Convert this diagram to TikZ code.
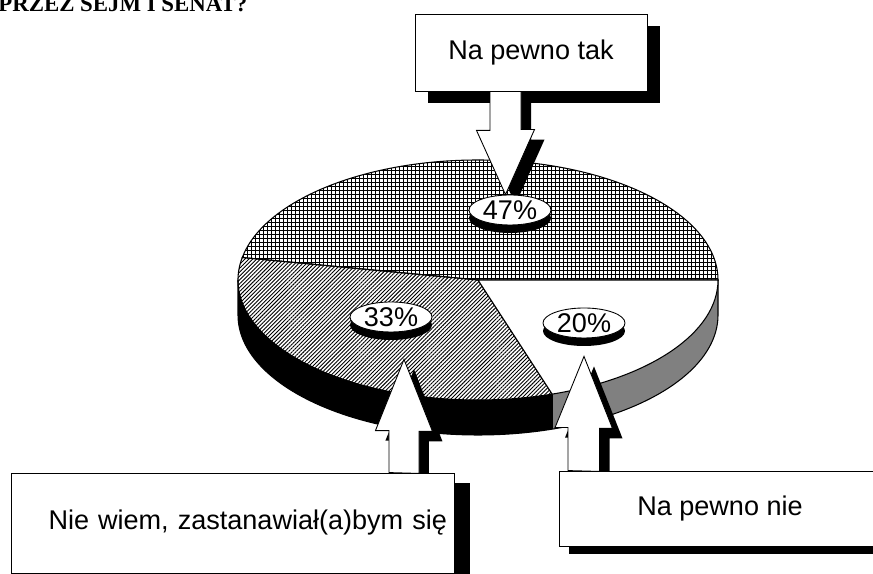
\documentclass[tikz,border=0pt]{standalone}
\usepackage{fontspec}
\setmainfont{Liberation Sans}
\newfontfamily\titlefont{Liberation Serif}
\usetikzlibrary{shapes.geometric, patterns.meta, shadows}
\definecolor{sidegray}{RGB}{128,128,128}
\pgfdeclarelayer{back}
\pgfsetlayers{back,main}

\tikzset{
	box/.style={draw, line width=0.5pt, fill=white, rectangle, inner sep=0pt, font=\fontsize{15.4}{18}\selectfont},
	disc/.style={draw, line width=0.5pt, fill=white, ellipse, minimum width=1.64cm, minimum height=0.6cm, inner sep=0pt, font=\fontsize{15.4}{18}\selectfont, drop shadow={shadow xshift=0cm, shadow yshift=-0.16cm, opacity=1, fill=black}},
	callout/.style={draw, line width=0.5pt, fill=white, preaction={fill=black, transform canvas={shift={(0.2cm,-0.2cm)}}}},
	shadowfill/.style={fill=black},
	rim/.style={line width=0.6pt}
}

\begin{document}
\begin{tikzpicture}[x=0.02cm, y=0.02cm]
	\useasboundingbox (0,0) rectangle (873,574);
	
	\node[anchor=base west, inner sep=0pt, font=\titlefont\bfseries\fontsize{13}{15}\selectfont] (title) at (-2,562) {PRZEZ SEJM I SENAT?};
	
	% pie
	\begin{pgfonlayer}{back}
	\coordinate (C) at (478,294);
	\fill[black] (C) ++(180:240 and 120) arc[start angle=180, end angle=288, x radius=240, y radius=120] -- ++(0,-35) arc[start angle=288, end angle=180, x radius=240, y radius=120] -- cycle;
	\fill[sidegray] (C) ++(288:240 and 120) arc[start angle=288, end angle=360, x radius=240, y radius=120] -- ++(0,-35) arc[start angle=360, end angle=288, x radius=240, y radius=120] -- cycle;
	\draw[rim] (C) ++(180:240 and 120) -- ++(0,-35) arc[start angle=180, end angle=360, x radius=240, y radius=120] -- ++(0,35);
	\draw[rim] (C) ++(288:240 and 120) -- ++(0,-35);
	
	\filldraw[rim, pattern={Hatch[angle=0, distance=0.08cm, line width=0.02cm]}] (C) -- ++(0:240 and 120) arc[start angle=0, end angle=169.2, x radius=240, y radius=120] -- cycle;
	\filldraw[rim, pattern={Lines[angle=45, distance=0.055cm, line width=0.018cm]}] (C) -- ++(169.2:240 and 120) arc[start angle=169.2, end angle=288, x radius=240, y radius=120] -- cycle;
	\filldraw[rim, fill=white] (C) -- ++(288:240 and 120) arc[start angle=288, end angle=360, x radius=240, y radius=120] -- cycle;
	\end{pgfonlayer}
	
	% boxes and labels
	\node[box, minimum width=4.64cm, minimum height=1.54cm] (tak) at (531,521.5) {Na pewno tak};
	\node[box, text width=8.58cm, align=right, inner xsep=0.14cm, minimum height=2cm] (wiem) at (232.5,51) {Nie wiem, zastanawiał(a)bym się};
	\node[box, minimum width=6.44cm, minimum height=1.5cm] (nie) at (720,65.5) {Na pewno nie};
	
	\node[disc] (p47) at (510,364) {47\%};
	\node[disc] (p33) at (391,257) {33\%};
	\node[disc] (p20) at (584,251) {20\%};
	
	% arrows
	\begin{pgfonlayer}{back}
	\fill[shadowfill] ([xshift=0.26cm,yshift=-0.24cm]tak.south west) rectangle ([xshift=0.26cm,yshift=-0.24cm]tak.north east);
	\fill[shadowfill] ([xshift=0.32cm,yshift=-0.2cm]wiem.south west) rectangle ([xshift=0.32cm,yshift=-0.2cm]wiem.north east);
	\fill[shadowfill] ([xshift=0.2cm,yshift=-0.16cm]nie.south west) rectangle ([xshift=0.2cm,yshift=-0.16cm]nie.north east);
	
	\draw[callout] ([xshift=-0.82cm]tak.south) -- ++(0,-39) -- ++(-13.5,0) -- ([xshift=-0.09cm]p47.north) -- ++(29,65) -- ++(-13.5,0) -- ++(0,39) -- cycle;
	\draw[callout] ([xshift=3.13cm]wiem.north) -- ++(0,42) -- ++(-13.5,0) -- ([xshift=0.26cm,yshift=-0.54cm]p33.south) -- ++(28.5,-72) -- ++(-13.5,0) -- ++(0,-42) -- cycle;
	\draw[callout] ([xshift=-3.04cm]nie.north) -- ++(0,43) -- ++(-13,0) -- ([yshift=-0.36cm]p20.south) -- ++(28.5,-72) -- ++(-13,0) -- ++(0,-43) -- cycle;
	\end{pgfonlayer}
\end{tikzpicture}
\end{document}
